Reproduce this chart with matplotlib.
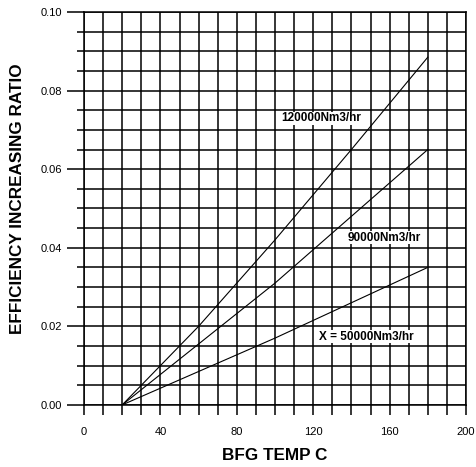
import matplotlib.pyplot as plt
from matplotlib.ticker import MultipleLocator

plt.rcParams['font.family'] = ['Liberation Sans', 'DejaVu Sans']

# BFG temperature (C) and efficiency increasing ratio per gas flow
temp = [20, 60, 100, 140, 180]
ratio_120000 = [0.0, 0.020, 0.042, 0.065, 0.0885]
ratio_90000 = [0.0, 0.0155, 0.031, 0.048, 0.065]
ratio_50000 = [0.0, 0.0085, 0.017, 0.026, 0.035]

labels = ['120000Nm3/hr', '90000Nm3/hr', 'X = 50000Nm3/hr']
label_pos = [(124, 0.073), (157, 0.0425), (148, 0.0173)]

fig = plt.figure(figsize=(4.76, 4.67), dpi=100)
ax = fig.add_axes([0.1765, 0.133, 0.8025, 0.8413])

for series in (ratio_120000, ratio_90000, ratio_50000):
    ax.plot(temp, series, color='black', linewidth=0.8)

for text, (x, y) in zip(labels, label_pos):
    ax.text(x, y, text, ha='center', va='center', fontsize=8.5,
            fontweight='bold', color='black',
            bbox=dict(facecolor='white', edgecolor='none', pad=0.3))

ax.set_xlim(0, 200)
ax.set_ylim(0, 0.10)
ax.xaxis.set_major_locator(MultipleLocator(40))
ax.xaxis.set_minor_locator(MultipleLocator(10))
ax.yaxis.set_major_locator(MultipleLocator(0.02))
ax.yaxis.set_minor_locator(MultipleLocator(0.005))
ax.yaxis.set_major_formatter(lambda v, p: f'{v:.2f}')

ax.grid(which='both', color='black', linewidth=1.1)
ax.set_axisbelow(True)
for s in ax.spines.values():
    s.set_linewidth(1.1)

ax.tick_params(axis='x', which='both', length=7, width=1.1, pad=9,
               labelsize=8)
ax.tick_params(axis='y', which='major', length=12, width=1.1, labelsize=8)
ax.tick_params(axis='y', which='minor', length=5, width=1.1)

ax.set_xlabel('BFG TEMP C', fontsize=12.3, fontweight='bold', labelpad=8)
ax.set_ylabel('EFFICIENCY INCREASING RATIO', fontsize=12.3,
              fontweight='bold', labelpad=8)
ax.yaxis.set_label_coords(-0.155, 0.525)

fig.savefig('out.png', dpi=100, facecolor='white')
